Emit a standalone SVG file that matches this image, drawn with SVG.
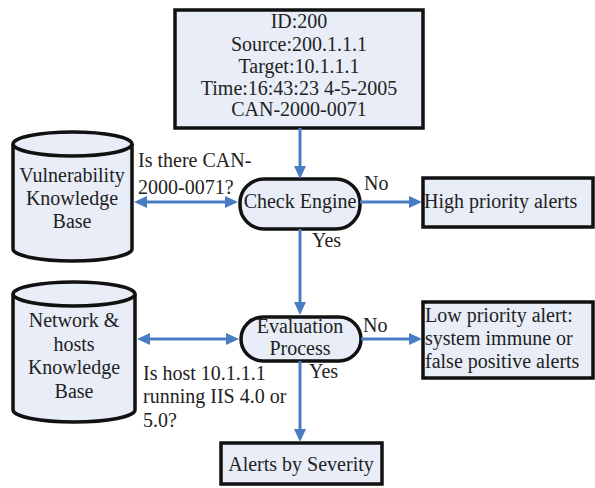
<svg xmlns="http://www.w3.org/2000/svg" width="595" height="488" viewBox="0 0 595 488">
  <style>
    .box { fill: #e8edf7; stroke: #111; stroke-width: 3.5; }
    .link { fill: none; stroke: #4a7cc4; stroke-width: 3; }
    .tip { fill: #4a7cc4; }
  </style>
  <rect width="595" height="488" fill="#ffffff"/>

  <!-- alert record -->
  <g id="record">
    <rect class="box" x="175" y="10" width="248" height="118"/>
    <g style="font-family:'Liberation Serif',serif;font-size:20px;fill:#222" text-anchor="middle">
      <text x="299" y="28">ID:200</text>
      <text x="299" y="51">Source:200.1.1.1</text>
      <text x="299" y="73">Target:10.1.1.1</text>
      <text x="299" y="95">Time:16:43:23 4-5-2005</text>
      <text x="299" y="116">CAN-2000-0071</text>
    </g>
  </g>

  <!-- vulnerability database -->
  <g id="vuln-kb">
    <path class="box" d="M13,144 L13,249 A59.5,12 0 0 0 132,249 L132,144 A59.5,12 0 0 0 13,144 Z"/>
    <path class="box" style="fill:none" d="M13,144 A59.5,12 0 0 0 132,144"/>
    <g style="font-family:'Liberation Serif',serif;font-size:20px;fill:#222" text-anchor="middle">
      <text x="72" y="182">Vulnerability</text>
      <text x="72" y="205">Knowledge</text>
      <text x="72" y="228">Base</text>
    </g>
  </g>

  <!-- network and hosts database -->
  <g id="net-kb">
    <path class="box" d="M13,294 L13,410 A61,12 0 0 0 135,410 L135,294 A61,12 0 0 0 13,294 Z"/>
    <path class="box" style="fill:none" d="M13,294 A61,12 0 0 0 135,294"/>
    <g style="font-family:'Liberation Serif',serif;font-size:20px;fill:#222" text-anchor="middle">
      <text x="74" y="327">Network &amp;</text>
      <text x="74" y="351">hosts</text>
      <text x="74" y="374">Knowledge</text>
      <text x="74" y="398">Base</text>
    </g>
  </g>

  <!-- check engine -->
  <g id="check-engine">
    <rect class="box" x="240" y="179" width="120" height="50" rx="24" ry="24"/>
    <text x="300" y="208" text-anchor="middle" style="font-family:'Liberation Serif',serif;font-size:20px;fill:#222">Check Engine</text>
  </g>

  <!-- evaluation process -->
  <g id="evaluation">
    <rect class="box" x="241" y="317" width="120" height="44" rx="22" ry="22"/>
    <g style="font-family:'Liberation Serif',serif;font-size:20px;fill:#222" text-anchor="middle">
      <text x="300" y="333">Evaluation</text>
      <text x="300" y="355">Process</text>
    </g>
  </g>

  <!-- outcomes -->
  <g id="high-priority">
    <rect class="box" x="423" y="178" width="170" height="49"/>
    <text x="424" y="208" style="font-family:'Liberation Serif',serif;font-size:20px;fill:#222">High priority alerts</text>
  </g>
  <g id="low-priority">
    <rect class="box" x="423" y="302" width="170" height="76"/>
    <g style="font-family:'Liberation Serif',serif;font-size:20px;fill:#222">
      <text x="425" y="322">Low priority alert:</text>
      <text x="425" y="345">system immune or</text>
      <text x="425" y="368">false positive alerts</text>
    </g>
  </g>
  <g id="by-severity">
    <rect class="box" x="221" y="443" width="161" height="41"/>
    <text x="301" y="471" text-anchor="middle" style="font-family:'Liberation Serif',serif;font-size:20px;fill:#222">Alerts by Severity</text>
  </g>

  <!-- connectors: shafts, then arrow tips -->
  <g id="connectors">
    <path class="link" d="M300,128 L300,168"/>
    <path class="link" d="M146,202 L226,202"/>
    <path class="link" d="M360,202 L410,202"/>
    <path class="link" d="M300,229 L300,304"/>
    <path class="link" d="M149,339 L227,339"/>
    <path class="link" d="M361,339 L410,339"/>
    <path class="link" d="M300,361 L300,430"/>
    <polygon class="tip" points="294,166 306,166 300,179"/>
    <polygon class="tip" points="147,196 147,208 134,202"/>
    <polygon class="tip" points="225,196 225,208 238,202"/>
    <polygon class="tip" points="409,196 409,208 422,202"/>
    <polygon class="tip" points="294,302 306,302 300,315"/>
    <polygon class="tip" points="150,333 150,345 137,339"/>
    <polygon class="tip" points="226,333 226,345 239,339"/>
    <polygon class="tip" points="409,333 409,345 422,339"/>
    <polygon class="tip" points="294,429 306,429 300,442"/>
  </g>

  <!-- connector labels -->
  <g id="labels" style="font-family:'Liberation Serif',serif;font-size:20px;fill:#222">
    <text x="138" y="167">Is there CAN-</text>
    <text x="138" y="194">2000-0071?</text>
    <text x="364" y="190">No</text>
    <text x="312" y="247">Yes</text>
    <text x="363" y="332">No</text>
    <text x="309" y="378">Yes</text>
    <text x="143" y="380">Is host 10.1.1.1</text>
    <text x="143" y="403">running IIS 4.0 or</text>
    <text x="143" y="427">5.0?</text>
  </g>
</svg>
